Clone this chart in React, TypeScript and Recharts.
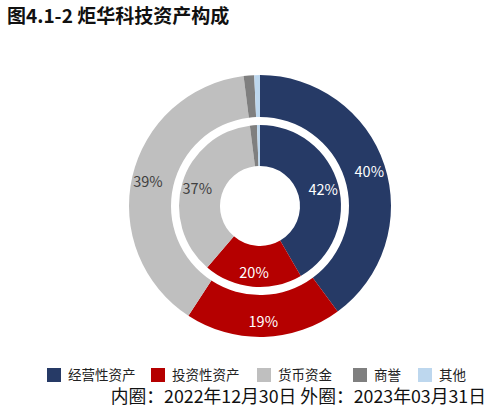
import { PieChart, Pie, Cell } from "recharts"

const categories = ["经营性资产", "投资性资产", "货币资金", "商誉", "其他"]
const innerValues = [41.6, 19.7, 36.7, 1.4, 0.6] // 2022-12-30
const outerValues = [39.9, 19.3, 38.8, 1.3, 0.7] // 2023-03-31
const colors = ["#263A66", "#B50000", "#BFBFBF", "#7F7F7F", "#BDD7EE"]
const labelColors = ["#ffffff", "#ffffff", "#404040", "#404040", "#404040"]

const legendLeft = [47, 151, 257, 353, 418]

const FONT = '"Noto Sans CJK SC", "Noto Sans", sans-serif'
const RAD = Math.PI / 180

const innerData = categories.map((name, i) => ({ name, value: innerValues[i] }))
const outerData = categories.map((name, i) => ({ name, value: outerValues[i] }))

function renderLabel(props: any) {
  const { cx, cy, midAngle, innerRadius, outerRadius, value, index } = props
  if (value < 5) return null
  const r = (innerRadius + outerRadius) / 2 + 5
  const x = cx + r * Math.cos(-midAngle * RAD)
  const y = cy + r * Math.sin(-midAngle * RAD)
  return (
    <text x={x} y={y} fill={labelColors[index]} textAnchor="middle" dominantBaseline="central"
      fontSize={14.5} fontFamily={FONT}>
      {Math.round(value)}%
    </text>
  )
}

export default function App() {
  return (
    <div style={{ position: "absolute", left: 0, top: 0, width: 494, height: 408, background: "#fff", fontFamily: FONT }}>
      <div style={{ position: "absolute", left: 7, top: 1, fontSize: 19, fontWeight: 700, color: "#111", whiteSpace: "nowrap" }}>
        图4.1-2 炬华科技资产构成
      </div>
      <div style={{ position: "absolute", left: 0, top: 0 }}>
        <PieChart width={494} height={408}>
          <Pie data={outerData} dataKey="value" cx={255} cy={201} innerRadius={89} outerRadius={131}
            startAngle={90} endAngle={-270} stroke="none" label={renderLabel} labelLine={false}
            isAnimationActive={false}>
            {outerData.map((d, i) => <Cell key={d.name} fill={colors[i]} />)}
          </Pie>
          <Pie data={innerData} dataKey="value" cx={255} cy={201} innerRadius={40} outerRadius={81}
            startAngle={90} endAngle={-270} stroke="none" label={renderLabel} labelLine={false}
            isAnimationActive={false}>
            {innerData.map((d, i) => <Cell key={d.name} fill={colors[i]} />)}
          </Pie>
        </PieChart>
      </div>
      {categories.map((c, i) => (
        <div key={c} style={{ position: "absolute", left: legendLeft[i], top: 367, height: 15, display: "flex", alignItems: "center", whiteSpace: "nowrap" }}>
          <span style={{ width: 14, height: 14, background: colors[i], display: "inline-block", marginRight: 7 }} />
          <span style={{ fontSize: 13.5, color: "#222", lineHeight: "15px" }}>{c}</span>
        </div>
      ))}
      <div style={{ position: "absolute", right: 8, top: 386, fontSize: 17.8, color: "#111", whiteSpace: "nowrap", lineHeight: "19px" }}>
        内圈：2022年12月30日 外圈：2023年03月31日
      </div>
    </div>
  )
}
